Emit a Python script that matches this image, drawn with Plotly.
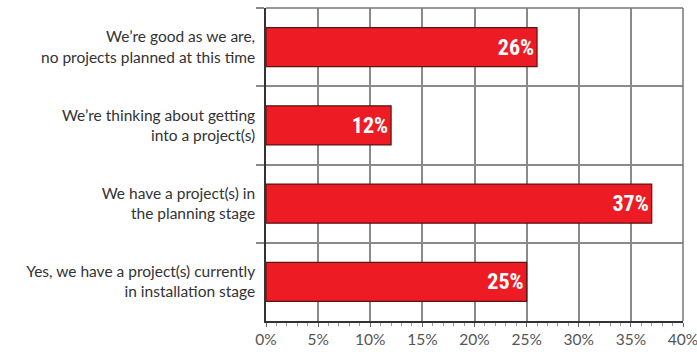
import plotly.graph_objects as go

categories = [
    "We’re good as we are,<br>no projects planned at this time",
    "We’re thinking about getting<br>into a project(s)",
    "We have a project(s) in<br>the planning stage",
    "Yes, we have a project(s) currently<br>in installation stage",
]
values = [26, 12, 37, 25]
labels = ["26%", "12%", "37%", "25%"]
x_ticks = [0, 5, 10, 15, 20, 25, 30, 35, 40]
x_ticklabels = ["0%", "5%", "10%", "15%", "20%", "25%", "30%", "35%", "40%"]

fig = go.Figure(
    go.Bar(
        y=categories,
        x=values,
        orientation="h",
        width=0.5,
        marker=dict(color="#ED1C24", line=dict(color="#5A1414", width=1.2)),
        text=labels,
        textposition="inside",
        insidetextanchor="end",
        textangle=0,
        textfont=dict(family="Liberation Sans Narrow, Roboto Condensed, Roboto, sans-serif",
                      size=22, color="white", weight="bold"),
        cliponaxis=False,
    )
)

fig.update_layout(
    width=697,
    height=352,
    margin=dict(l=266, r=14, t=8, b=31, autoexpand=False),
    paper_bgcolor="white",
    plot_bgcolor="white",
    showlegend=False,
    font=dict(family="Lato, Noto Sans, sans-serif", size=15.5, color="#333333"),
    xaxis=dict(
        range=[0, 40],
        tickvals=x_ticks,
        ticktext=x_ticklabels,
        ticklabeloverflow="allow",
        automargin=False,
        showgrid=True,
        gridcolor="#8a8a8a",
        gridwidth=1.5,
        showline=True,
        linecolor="#333333",
        linewidth=1.5,
        mirror=False,
        ticks="outside",
        ticklen=4,
        tickcolor="#666666",
        minor=dict(dtick=1, ticks="outside", ticklen=3, tickcolor="#999999", showgrid=False),
        tickfont=dict(size=15.5, color="#555555"),
        zeroline=False,
        fixedrange=True,
    ),
    yaxis=dict(
        autorange="reversed",
        type="category",
        automargin=False,
        tickson="boundaries",
        ticks="outside",
        ticklen=8,
        tickcolor="#8a8a8a",
        tickwidth=1.5,
        showgrid=True,
        gridcolor="#8a8a8a",
        gridwidth=1.5,
        showline=True,
        linecolor="#333333",
        linewidth=1.5,
        tickfont=dict(size=15.5, color="#333333"),
        ticklabelstandoff=6,
        fixedrange=True,
    ),
)

# right and top border lines
fig.add_shape(type="line", xref="paper", yref="paper", x0=1, x1=1, y0=0, y1=1,
              line=dict(color="#777777", width=1.5))
fig.add_shape(type="line", xref="paper", yref="paper", x0=0, x1=1, y0=1, y1=1,
              line=dict(color="#777777", width=1.5))

fig.write_html("out.html")
